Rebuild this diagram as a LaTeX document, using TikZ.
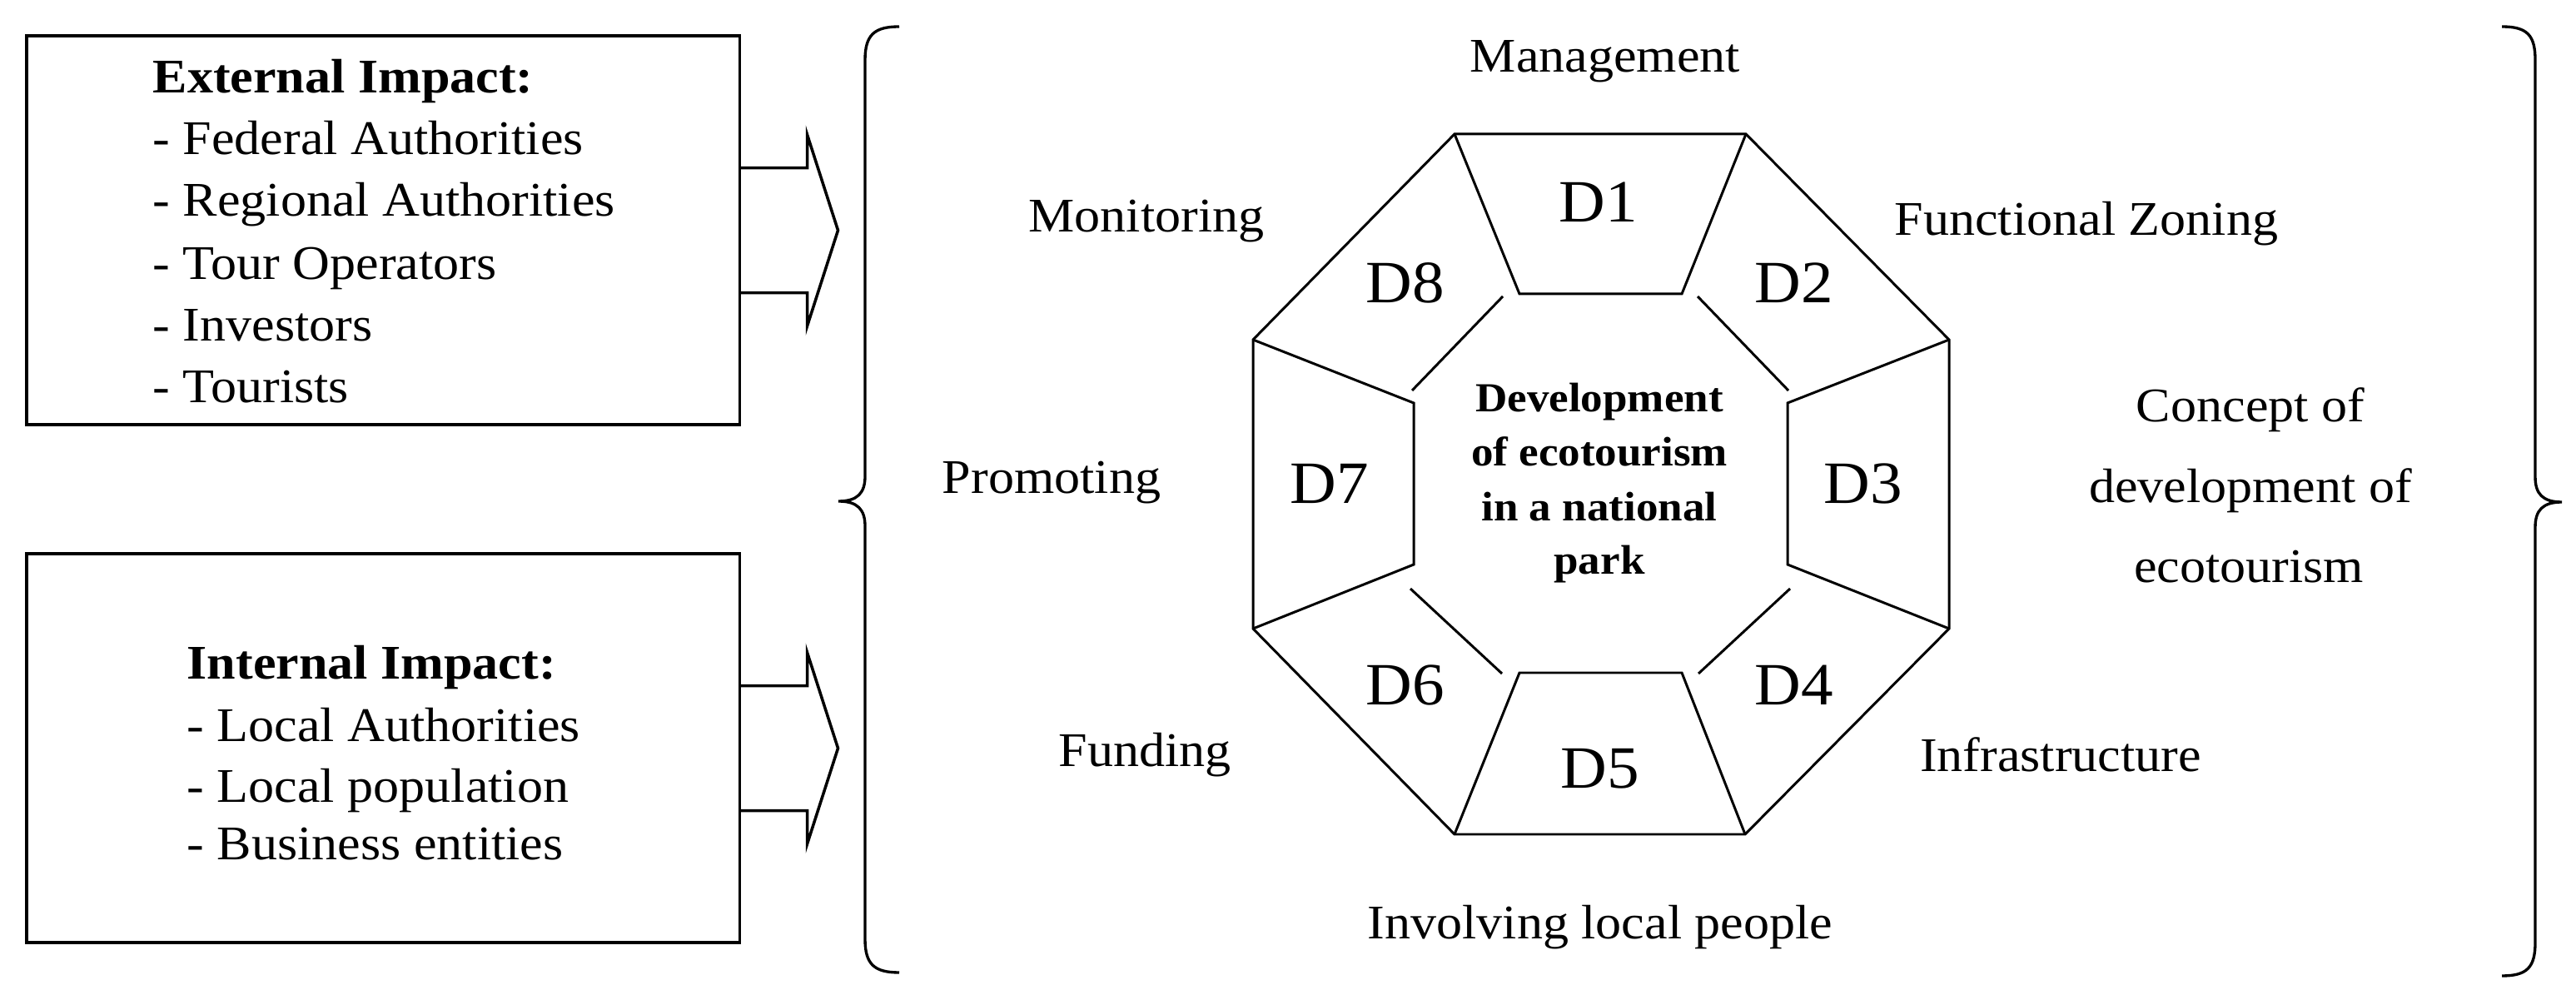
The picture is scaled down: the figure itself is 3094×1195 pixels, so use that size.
\documentclass[tikz,border=0pt]{standalone}
\usepackage{fontspec}
\setmainfont{Liberation Serif}[FakeStretch=1.07]
\usetikzlibrary{calc}
\begin{document}
\begin{tikzpicture}[x=0.01cm,y=-0.01cm,
  lbl/.style={font=\fontsize{16.5}{20}\selectfont, anchor=base, inner sep=0pt},
  itm/.style={font=\fontsize{16.5}{20}\selectfont, anchor=base west, inner sep=0pt},
  dlbl/.style={font=\fontsize{20.5}{24}\selectfont, anchor=base, inner sep=0pt},
  ctr/.style={font=\fontsize{14.1}{18}\selectfont\bfseries, anchor=base, inner sep=0pt},
  box/.style={draw, line width=1.1pt, minimum width=8.56cm, minimum height=4.67cm, anchor=north west, inner sep=0pt, outer sep=0pt},
  oct/.style={line width=0.85pt, line join=miter},
  brc/.style={line width=0.95pt},
  blockarrow/.style={line width=1.0pt, line join=miter}]
\useasboundingbox (0,0) rectangle (3094,1195);
\fill[white] (0,0) rectangle (3094,1195);

% left boxes
\node[box] (ext) at (32,43) {};
\node[box] (int) at (32,665) {};

\node[itm] (e0) at (183,112) {\bfseries External Impact:};
\node[itm] (e1) at (183,186) {- Federal Authorities};
\node[itm] (e2) at (183,260) {- Regional Authorities};
\node[itm] (e3) at (183,336) {- Tour Operators};
\node[itm] (e4) at (183,410) {- Investors};
\node[itm] (e5) at (183,484) {- Tourists};

\node[itm] (n0) at (224,816) {\bfseries Internal Impact:};
\node[itm] (n1) at (224,890) {- Local Authorities};
\node[itm] (n2) at (224,963) {- Local population};
\node[itm] (n3) at (224,1032) {- Business entities};

% block arrows
\draw[blockarrow] ($(ext.east)+(0,-75)$) -- ++(81,0) -- ++(0,-40) -- ++(37,115) -- ++(-37,115) -- ++(0,-40) -- ++(-81,0);
\draw[blockarrow] ($(int.east)+(0,-75)$) -- ++(81,0) -- ++(0,-40) -- ++(37,115) -- ++(-37,115) -- ++(0,-40) -- ++(-81,0);

% braces
\draw[brc] (1080,32) .. controls (1050,32) and (1039,42) .. (1039,72) -- (1039,572)
  .. controls (1039,592) and (1030,602) .. (1007,602)
  .. controls (1030,602) and (1039,612) .. (1039,632) -- (1039,1128)
  .. controls (1039,1158) and (1050,1168) .. (1080,1168);
\draw[brc] (3005,32) .. controls (3035,32) and (3045,42) .. (3045,72) -- (3045,573)
  .. controls (3045,593) and (3054,603) .. (3077,603)
  .. controls (3054,603) and (3045,613) .. (3045,633) -- (3045,1132)
  .. controls (3045,1162) and (3035,1172) .. (3005,1172);

% octagon
\coordinate (o1) at (1747,161);
\coordinate (o2) at (2097,161);
\coordinate (o3) at (2341,408);
\coordinate (o4) at (2341,755);
\coordinate (o5) at (2096,1002);
\coordinate (o6) at (1747,1002);
\coordinate (o7) at (1505,755);
\coordinate (o8) at (1505,408);
\coordinate (i1) at (1825,353);
\coordinate (i2) at (2020,353);
\coordinate (i3) at (2147,484);
\coordinate (i4) at (2147,678);
\coordinate (i5) at (2020,808);
\coordinate (i6) at (1825,808);
\coordinate (i7) at (1698,678);
\coordinate (i8) at (1698,484);
\draw[oct] (o1)--(o2)--(o3)--(o4)--(o5)--(o6)--(o7)--(o8)--cycle;
\draw[oct] (o1)--(i1)--(i2)--(o2);
\draw[oct] (o3)--(i3)--(i4)--(o4);
\draw[oct] (o5)--(i5)--(i6)--(o6);
\draw[oct] (o7)--(i7)--(i8)--(o8);
\draw[oct] (2039,356)--(2148,469);
\draw[oct] (2150,707)--(2040,809);
\draw[oct] (1694,707)--(1804,809);
\draw[oct] (1805,356)--(1696,469);

% D labels
\node[dlbl] (d1) at (1920,267) {D1};
\node[dlbl] (d2) at (2155,364) {D2};
\node[dlbl] (d3) at (2238,605) {D3};
\node[dlbl] (d4) at (2155,847) {D4};
\node[dlbl] (d5) at (1922,947) {D5};
\node[dlbl] (d6) at (1688,847) {D6};
\node[dlbl] (d7) at (1597,605) {D7};
\node[dlbl] (d8) at (1688,364) {D8};

% centre text
\node[ctr] (c1) at (1921,495) {Development};
\node[ctr] (c2) at (1921,560) {of ecotourism};
\node[ctr] (c3) at (1921,626) {in a national};
\node[ctr] (c4) at (1921,690) {park};

% outer labels
\node[lbl] (l1) at (1928,87) {Management};
\node[lbl] (l2) at (2506,283) {Functional Zoning};
\node[lbl] (l3a) at (2703,507) {Concept of};
\node[lbl] (l3b) at (2703,604) {development of};
\node[lbl] (l3c) at (2701,700) {ecotourism};
\node[lbl] (l4) at (2475,926) {Infrastructure};
\node[lbl] (l5) at (1922,1127) {Involving local people};
\node[lbl] (l6) at (1375,920) {Funding};
\node[lbl] (l7) at (1263,593) {Promoting};
\node[lbl] (l8) at (1377,279) {Monitoring};
\end{tikzpicture}
\end{document}
